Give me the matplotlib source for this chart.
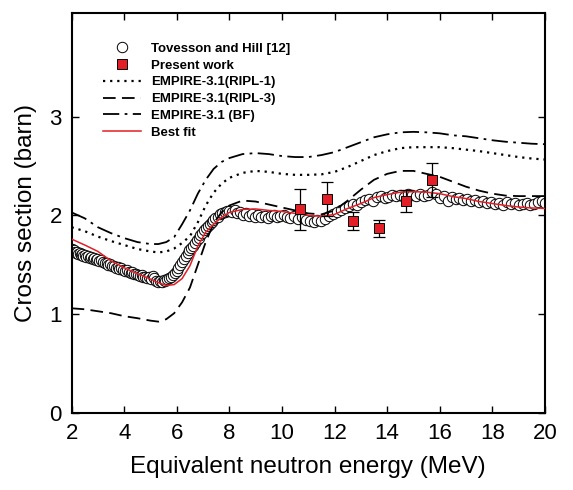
import matplotlib
matplotlib.use('Agg')
import matplotlib.pyplot as plt
import numpy as np

plt.rcParams['font.family'] = ['Liberation Sans', 'DejaVu Sans']

# Tovesson and Hill [12] (open circles)
th_e = [2.00, 2.04, 2.08, 2.12, 2.16, 2.20, 2.25, 2.30, 2.35, 2.40, 2.45, 2.50, 2.56, 2.62, 2.68, 2.74,
        2.80, 2.86, 2.92, 2.98, 3.05, 3.12, 3.19, 3.26, 3.33, 3.40, 3.47, 3.54, 3.61, 3.68, 3.75, 3.82,
        3.89, 3.96, 4.03, 4.10, 4.17, 4.24, 4.31, 4.38, 4.45, 4.52, 4.59, 4.66, 4.73, 4.80, 4.87, 4.94,
        5.01, 5.08, 5.15, 5.22, 5.29, 5.36, 5.43, 5.50, 5.57, 5.64, 5.71, 5.78, 5.85, 5.92, 5.99, 6.06,
        6.13, 6.20, 6.27, 6.34, 6.41, 6.48, 6.55, 6.62, 6.69, 6.76, 6.83, 6.90, 6.97, 7.04, 7.11, 7.18,
        7.25, 7.32, 7.39, 7.46, 7.55, 7.64, 7.73, 7.82, 7.91, 8.00, 8.10, 8.20, 8.30, 8.40, 8.50, 8.62,
        8.74, 8.86, 8.98, 9.10, 9.22, 9.34, 9.46, 9.58, 9.70, 9.82, 9.94, 10.06, 10.18, 10.30, 10.45,
        10.60, 10.75, 10.90, 11.05, 11.20, 11.35, 11.50, 11.65, 11.80, 11.95, 12.10, 12.25, 12.40, 12.55,
        12.70, 12.85, 13.00, 13.15, 13.30, 13.45, 13.60, 13.75, 13.90, 14.05, 14.20, 14.35, 14.50, 14.65,
        14.80, 14.95, 15.10, 15.25, 15.40, 15.55, 15.70, 15.85, 16.00, 16.15, 16.30, 16.45, 16.60, 16.75,
        16.90, 17.05, 17.20, 17.35, 17.50, 17.65, 17.80, 17.95, 18.10, 18.25, 18.40, 18.55, 18.70, 18.85,
        19.00, 19.15, 19.30, 19.45, 19.60, 19.75, 19.90, 20.00]
th_xs = [1.66, 1.64, 1.65, 1.63, 1.62, 1.63, 1.61, 1.62, 1.60, 1.61, 1.59, 1.60, 1.58, 1.59, 1.57, 1.58,
         1.56, 1.57, 1.55, 1.56, 1.54, 1.55, 1.53, 1.52, 1.52, 1.50, 1.51, 1.49, 1.49, 1.47, 1.48, 1.46,
         1.47, 1.45, 1.44, 1.45, 1.43, 1.42, 1.43, 1.41, 1.41, 1.40, 1.39, 1.40, 1.38, 1.38, 1.37, 1.38,
         1.36, 1.39, 1.37, 1.34, 1.33, 1.34, 1.33, 1.35, 1.34, 1.36, 1.37, 1.38, 1.40, 1.42, 1.44, 1.47,
         1.50, 1.53, 1.56, 1.59, 1.62, 1.65, 1.67, 1.69, 1.72, 1.75, 1.77, 1.80, 1.82, 1.85, 1.87, 1.89,
         1.91, 1.93, 1.95, 1.97, 1.98, 2.01, 2.02, 2.03, 2.04, 2.04, 2.03, 2.05, 2.02, 2.03, 2.00, 2.02,
         1.99, 2.01, 1.98, 2.00, 1.98, 1.99, 1.97, 1.99, 2.00, 1.98, 1.99, 2.00, 1.98, 1.97, 1.99,
         1.96, 1.98, 1.95, 1.94, 1.93, 1.95, 1.94, 1.96, 1.99, 2.01, 2.03, 2.05, 2.07, 2.09,
         2.12, 2.11, 2.14, 2.16, 2.17, 2.15, 2.19, 2.20, 2.18, 2.19, 2.21, 2.20, 2.21, 2.19,
         2.22, 2.21, 2.20, 2.22, 2.20, 2.21, 2.24, 2.22, 2.18, 2.20, 2.15, 2.19, 2.17, 2.18,
         2.16, 2.17, 2.15, 2.16, 2.14, 2.15, 2.13, 2.14, 2.12, 2.13, 2.11, 2.14, 2.12, 2.13,
         2.11, 2.12, 2.13, 2.11, 2.12, 2.14, 2.15, 2.13]

# Present work
pw_e = [10.7, 11.7, 12.7, 13.7, 14.7, 15.7]
pw_xs = [2.06, 2.165, 1.945, 1.87, 2.145, 2.36]
pw_err = [0.21, 0.17, 0.09, 0.085, 0.11, 0.17]

# EMPIRE-3.1 calculations and best fit
calc_e = [2.0, 2.5, 3.0, 3.5, 4.0, 4.5, 5.0, 5.3, 5.6, 5.9, 6.2, 6.5, 6.8, 7.1, 7.4, 7.7, 8.0, 8.5,
          9.0, 9.5, 10.0, 10.5, 11.0, 11.5, 12.0, 12.5, 13.0, 13.5, 14.0, 14.5, 15.0, 15.5, 16.0,
          16.5, 17.0, 17.5, 18.0, 18.5, 19.0, 19.5, 20.0]
ripl1 = [1.88, 1.84, 1.785, 1.74, 1.70, 1.66, 1.635, 1.625, 1.635, 1.665, 1.72, 1.79, 1.93, 2.10,
         2.23, 2.32, 2.38, 2.43, 2.45, 2.44, 2.42, 2.41, 2.41, 2.415, 2.44, 2.49, 2.55, 2.61, 2.65,
         2.68, 2.69, 2.69, 2.69, 2.68, 2.665, 2.65, 2.63, 2.61, 2.59, 2.575, 2.565]
ripl3 = [1.06, 1.05, 1.03, 1.01, 0.98, 0.96, 0.935, 0.925, 0.95, 1.01, 1.12, 1.27, 1.50, 1.73,
         1.92, 2.03, 2.10, 2.15, 2.14, 2.11, 2.08, 2.05, 2.02, 2.01, 2.05, 2.15, 2.26, 2.36, 2.42,
         2.45, 2.45, 2.42, 2.39, 2.34, 2.29, 2.25, 2.22, 2.20, 2.195, 2.195, 2.195]
bf = [2.03, 1.97, 1.88, 1.82, 1.77, 1.73, 1.71, 1.71, 1.73, 1.78, 1.91, 2.05, 2.22, 2.36, 2.47,
      2.54, 2.58, 2.62, 2.63, 2.62, 2.60, 2.59, 2.59, 2.61, 2.64, 2.69, 2.74, 2.79, 2.82, 2.84,
      2.845, 2.84, 2.83, 2.81, 2.80, 2.78, 2.76, 2.745, 2.735, 2.725, 2.72]
best = [1.76, 1.70, 1.635, 1.54, 1.47, 1.41, 1.355, 1.32, 1.29, 1.30, 1.36, 1.49, 1.69, 1.83, 1.91,
        1.98, 2.03, 2.06, 2.065, 2.05, 2.04, 2.02, 2.00, 1.99, 2.01, 2.07, 2.12, 2.18, 2.21, 2.235,
        2.24, 2.235, 2.22, 2.19, 2.17, 2.14, 2.12, 2.10, 2.085, 2.075, 2.07]

red = '#e41e26'

fig = plt.figure(figsize=(5.73, 4.9), dpi=100)
ax = fig.add_axes([0.125, 0.157, 0.826, 0.817])

h1, = ax.plot(th_e, th_xs, 'o', ms=7.5, mfc='white', mec='black', mew=0.7, zorder=2)
ax.errorbar(pw_e, pw_xs, yerr=pw_err, fmt='none', ecolor='black', elinewidth=0.9,
            capsize=4, capthick=0.9, zorder=5)
h2, = ax.plot(pw_e, pw_xs, 's', ms=6.5, mfc=red, mec='black', mew=0.7, zorder=6)
h3, = ax.plot(calc_e, ripl1, color='black', lw=1.6, ls=(0, (1, 2.2)), zorder=3)
h4, = ax.plot(calc_e, ripl3, color='black', lw=1.3, ls=(0, (7, 3.5)), zorder=3)
h5, = ax.plot(calc_e, bf, color='black', lw=1.3, ls=(0, (9, 3, 1.5, 3)), zorder=3)
h6, = ax.plot(calc_e, best, color=red, lw=1.1, zorder=4)

ax.set_xlim(2, 20)
ax.set_ylim(0, 4.05)
ax.set_xticks([2, 4, 6, 8, 10, 12, 14, 16, 18, 20])
ax.set_yticks([0, 1, 2, 3])
ax.tick_params(direction='in', length=5, width=1, top=True, right=True, labelsize=16, pad=7)
for s in ax.spines.values():
    s.set_linewidth(1.5)
ax.set_xlabel('Equivalent neutron energy (MeV)', fontsize=17.5, labelpad=9)
ax.set_ylabel('Cross section (barn)', fontsize=17.5, labelpad=9)

labels = ['Tovesson and Hill [12]', 'Present work', 'EMPIRE-3.1(RIPL-1)',
          'EMPIRE-3.1(RIPL-3)', 'EMPIRE-3.1 (BF)', 'Best fit']
ax.legend([h1, h2, h3, h4, h5, h6], labels, loc='upper left', bbox_to_anchor=(0.066, 0.925),
          frameon=False, prop={'weight': 'bold', 'size': 9.5}, handlelength=2.9,
          handletextpad=0.75, labelspacing=0.34, borderaxespad=0, borderpad=0)

fig.savefig('out.png', dpi=100)
